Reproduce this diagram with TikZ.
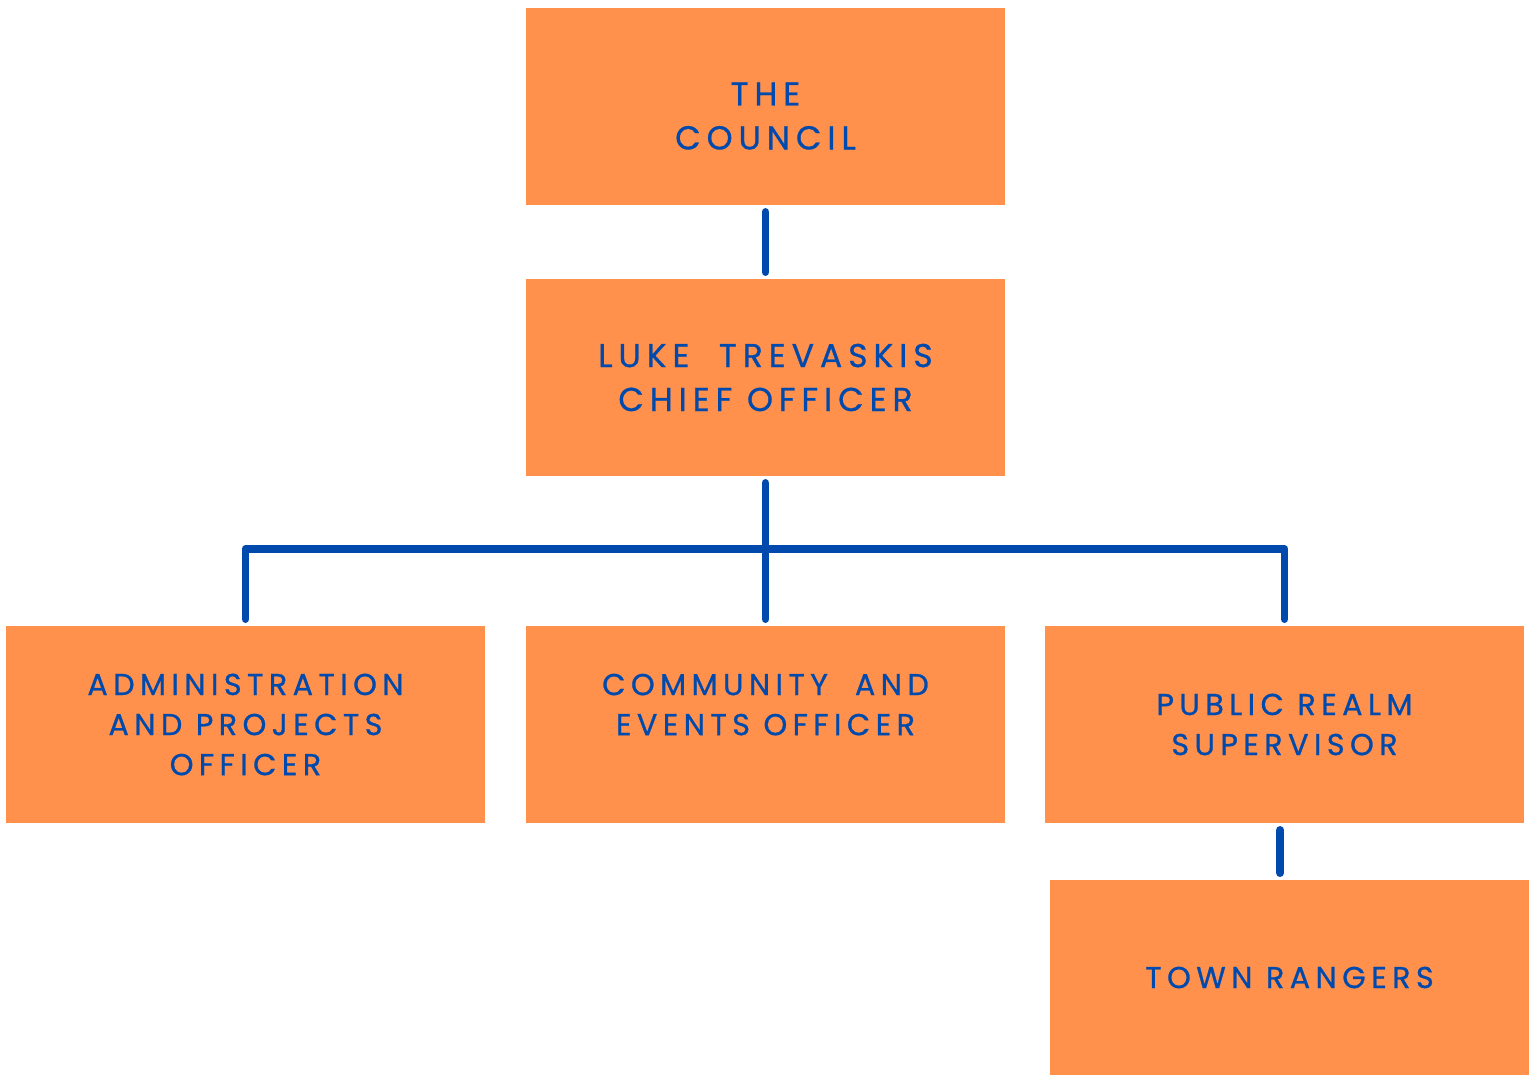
\documentclass[tikz,border=0pt]{standalone}
\usepackage{fontspec}
\newfontfamily\orgfont{Poppins}[LetterSpace=18,FakeBold=0.8]
\definecolor{boxorange}{HTML}{FF914D}
\definecolor{lineblue}{HTML}{004AAD}

\begin{document}
\begin{tikzpicture}[x=0.02cm, y=-0.02cm,
            box/.style={rectangle,fill=boxorange,minimum width=9.58cm,minimum height=3.94cm,
            inner sep=0pt,outer sep=0pt,text=lineblue,align=center,font=\orgfont\fontsize{17.2}{22.8}\selectfont},
            bigbox/.style={box,font=\orgfont\fontsize{18.8}{25}\selectfont},
            link/.style={draw=lineblue,line width=4.5pt,line cap=round,line join=round,
            shorten <=0.14cm,shorten >=0.14cm}]
            \useasboundingbox (0,0) rectangle (1531,1075);

            \node[bigbox,label={[bigbox,fill=none,minimum width=0,minimum height=0,yshift=-0.19cm]center:THE\\COUNCIL}] (council) at (765.5,106.5) {};
            \node[bigbox] (luke) at (765.5,377.5) {LUKE\ \ TREVASKIS\\CHIEF OFFICER};

            \node[box] (admin) at (245.5,724.5) {ADMINISTRATION\\AND PROJECTS\\OFFICER};
            \node[box] (comm) at (765.5,724.5) {COMMUNITY\ \ AND\\EVENTS OFFICER\\\mbox{}};
            \node[box] (pub) at (1284.5,724.5) {PUBLIC REALM\\SUPERVISOR};
            \node[box,minimum height=3.9cm] (town) at (1289.5,977.5) {TOWN RANGERS};

            \coordinate (bar) at (765.5,549);

            \draw[link] (council) to (luke);
            \draw[link] (luke) to (comm);
            \draw[link] (admin.north) |- (bar) -| (pub.north);
            \draw[link] ([xshift=-0.09cm]pub.south) to ([xshift=-0.19cm]town.north);
        \end{tikzpicture}
\end{document}
